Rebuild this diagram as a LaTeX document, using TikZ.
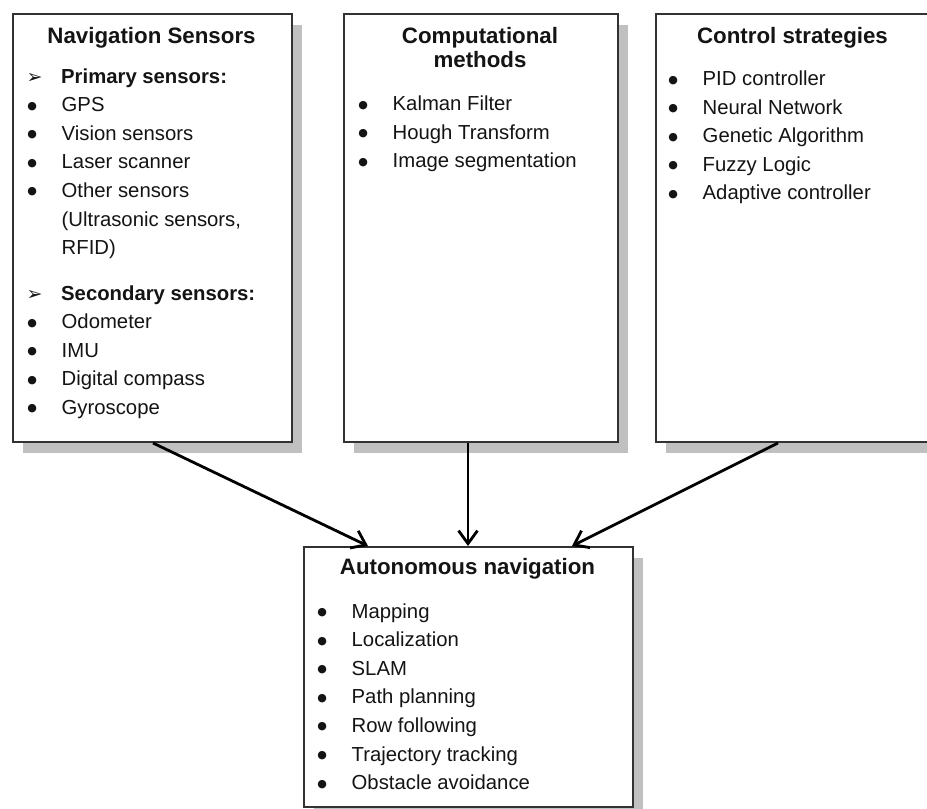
\documentclass[tikz,border=0pt]{standalone}
\usepackage{fontspec}
\setmainfont{Liberation Sans}
\newfontfamily\dejavu{DejaVu Sans}
\usetikzlibrary{arrows.meta,shadows}
\definecolor{bord}{RGB}{50,50,50}
\definecolor{shad}{RGB}{192,192,192}
\definecolor{ink}{RGB}{20,20,20}
\newcommand\bul{\makebox[0pt]{\raisebox{2.5pt}{\dejavu\fontsize{11}{11}\selectfont ●}}\hspace{29.5pt}}
\newcommand\arb{\makebox[0pt]{\dejavu\fontsize{19}{19}\selectfont ➢}\hspace{26.5pt}}
\begin{document}
\begin{tikzpicture}[x=1pt,y=-1pt,
  box/.style={draw=bord, line width=2pt, fill=white, inner sep=0pt, anchor=north west,
    drop shadow={shadow xshift=10pt, shadow yshift=-11pt, fill=shad, opacity=1}},
  itm/.style={inner sep=0pt, anchor=base west, text=ink, font=\fontsize{20.3}{24}\selectfont},
  bitm/.style={itm, font=\fontsize{20.3}{24}\selectfont\bfseries},
  head/.style={inner sep=0pt, anchor=base, text=ink, font=\fontsize{22.3}{26}\selectfont\bfseries},
  arr/.style={draw=black, line width=2.8pt, -{Straight Barb[length=13pt,width=19pt]}}]
\useasboundingbox (0,0) rectangle (927,809);
\clip (0,0) rectangle (927,809);
% boxes
\node[box, minimum width=279pt, minimum height=428pt] (b1) at (12,13) {};
\node[box, minimum width=274pt, minimum height=428pt] (b2) at (343,13) {};
\node[box, minimum width=275pt, minimum height=428pt] (b3) at (655,13) {};
\node[box, minimum width=329pt, minimum height=260pt] (b4) at (303,546) {};
% box 1
\node[head] (h1) at (151.5,43) {Navigation Sensors};
\node[bitm] (p1) at (34.5,83) {\arb Primary sensors:};
\node[itm] (p2) at (32,111.6) {\bul GPS};
\node[itm] (p3) at (32,140.2) {\bul Vision sensors};
\node[itm] (p4) at (32,168.8) {\bul Laser scanner};
\node[itm] (p5) at (32,197.4) {\bul Other sensors};
\node[itm] (p6) at (61.5,226) {(Ultrasonic sensors,};
\node[itm] (p7) at (61.5,254.6) {RFID)};
\node[bitm] (s1) at (34.5,300) {\arb Secondary sensors:};
\node[itm] (s2) at (32,328.6) {\bul Odometer};
\node[itm] (s3) at (32,357.2) {\bul IMU};
\node[itm] (s4) at (32,385.8) {\bul Digital compass};
\node[itm] (s5) at (32,414.4) {\bul Gyroscope};
% box 2
\node[head] (h2a) at (480,43) {Computational};
\node[head] (h2b) at (480,67.5) {methods};
\node[itm] (c1) at (363,110.5) {\bul Kalman Filter};
\node[itm] (c2) at (363,139.1) {\bul Hough Transform};
\node[itm] (c3) at (363,167.7) {\bul Image segmentation};
% box 3
\node[head] (h3) at (792.5,43) {Control strategies};
\node[itm] (k1) at (673,85.5) {\bul PID controller};
\node[itm] (k2) at (673,114.1) {\bul Neural Network};
\node[itm] (k3) at (673,142.7) {\bul Genetic Algorithm};
\node[itm] (k4) at (673,171.3) {\bul Fuzzy Logic};
\node[itm] (k5) at (673,199.9) {\bul Adaptive controller};
% box 4
\node[head] (h4) at (467.5,574) {Autonomous navigation};
\node[itm] (a1) at (322,618) {\bul Mapping};
\node[itm] (a2) at (322,646.6) {\bul Localization};
\node[itm] (a3) at (322,675.2) {\bul SLAM};
\node[itm] (a4) at (322,703.8) {\bul Path planning};
\node[itm] (a5) at (322,732.4) {\bul Row following};
\node[itm] (a6) at (322,761) {\bul Trajectory tracking};
\node[itm] (a7) at (322,789.6) {\bul Obstacle avoidance};
% arrows
\draw[arr] ([xshift=141pt]b1.south west) -- ([xshift=65pt]b4.north west);
\draw[arr] ([xshift=125pt]b2.south west) -- ([xshift=165pt]b4.north west);
\draw[arr] ([xshift=123pt]b3.south west) -- ([xshift=269pt]b4.north west);
\end{tikzpicture}
\end{document}
